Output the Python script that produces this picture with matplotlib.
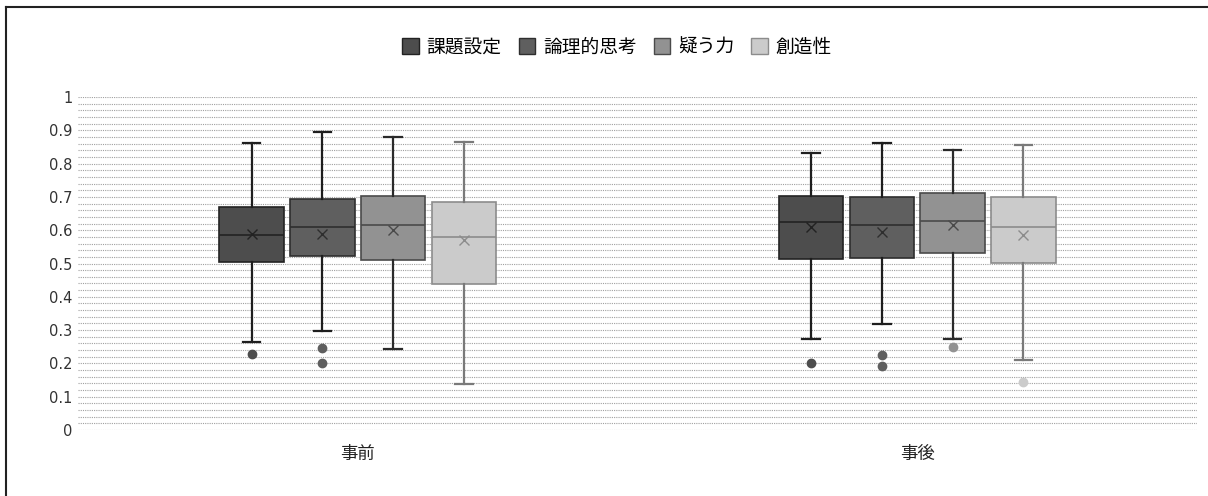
import matplotlib
matplotlib.use("Agg")
import matplotlib.pyplot as plt
from matplotlib.patches import Patch
from matplotlib.lines import Line2D
import numpy as np

plt.rcParams['font.family'] = ['DejaVu Sans', 'Noto Sans CJK JP']

groups = ['事前', '事後']
series = ['課題設定', '論理的思考', '疑う力', '創造性']

# per series: [事前, 事後]
q1 = [[0.505, 0.513], [0.523, 0.517], [0.510, 0.532], [0.438, 0.502]]
med = [[0.585, 0.625], [0.610, 0.616], [0.615, 0.628], [0.580, 0.610]]
q3 = [[0.670, 0.703], [0.695, 0.700], [0.704, 0.711], [0.686, 0.700]]
whislo = [[0.264, 0.273], [0.296, 0.319], [0.242, 0.272], [0.138, 0.210]]
whishi = [[0.862, 0.831], [0.894, 0.861], [0.879, 0.841], [0.864, 0.856]]
means = [[0.590, 0.610], [0.590, 0.595], [0.600, 0.615], [0.570, 0.585]]
fliers = [[[0.228], [0.200]], [[0.246, 0.200], [0.225, 0.193]], [[], [0.248]], [[], [0.143]]]

face = ['#4d4d4d', '#5f5f5f', '#929292', '#cbcbcb']
edge = ['#222222', '#2e2e2e', '#4a4a4a', '#8c8c8c']
whisk = ['#1e1e1e', '#1e1e1e', '#2a2a2a', '#7a7a7a']

fig = plt.figure(figsize=(12.08, 4.96), dpi=100)
ax = fig.add_axes([78/1208, 1-430/496, (1197-78)/1208, (430-97)/496])

width = 0.115
step = 0.1265
for s in range(4):
    stats = []
    pos = []
    for g in range(2):
        stats.append(dict(med=med[s][g], q1=q1[s][g], q3=q3[s][g],
                          whislo=whislo[s][g], whishi=whishi[s][g],
                          mean=means[s][g], fliers=np.array(fliers[s][g])))
        pos.append(g + (s - 1.5) * step)
    ax.bxp(stats, positions=pos, widths=width, capwidths=width*0.27,
           patch_artist=True, showmeans=True,
           boxprops=dict(facecolor=face[s], edgecolor=edge[s], linewidth=1.2),
           medianprops=dict(color=edge[s], linewidth=1.2),
           whiskerprops=dict(color=whisk[s], linewidth=1.6),
           capprops=dict(color=whisk[s], linewidth=1.6),
           meanprops=dict(marker='x', markeredgecolor=edge[s], markersize=7, markeredgewidth=1),
           flierprops=dict(marker='o', markerfacecolor=face[s], markeredgecolor=face[s], markersize=6))

ax.set_xlim(-0.5, 1.5)
ax.set_ylim(0, 1)
ax.set_xticks([0, 1])
ax.set_xticklabels(groups, fontsize=12.5, color='#222222')
ax.set_yticks(np.round(np.arange(0, 1.01, 0.1), 1))
ax.set_yticklabels(['0'] + [f'{v:.1f}' for v in np.arange(0.1, 0.95, 0.1)] + ['1'],
                   fontsize=10.5, color='#333333')
ax.set_yticks(np.arange(0, 1.001, 0.02), minor=True)
ax.tick_params(axis='both', which='both', length=0)
ax.tick_params(axis='x', pad=11)
ax.tick_params(axis='y', pad=4)
ax.grid(axis='y', which='both', color='#a0a0a0', linestyle=(0, (1, 1)), linewidth=0.8)
ax.set_axisbelow(True)
for sp in ax.spines.values():
    sp.set_visible(False)

handles = [Patch(facecolor=face[i], edgecolor=edge[i], label=series[i]) for i in range(4)]
fig.legend(handles=handles, loc='center', bbox_to_anchor=(617/1208, 1-47/496), ncol=4,
           frameon=False, fontsize=13.5, handlelength=0.9, handleheight=0.9,
           handletextpad=0.4, columnspacing=0.9)

fig.add_artist(Line2D([6/1208, 6/1208], [0, 1-7/496], color='#222222', linewidth=1.5))
fig.add_artist(Line2D([6/1208, 1], [1-7/496, 1-7/496], color='#222222', linewidth=1.5))

fig.savefig('out.png', dpi=100)
